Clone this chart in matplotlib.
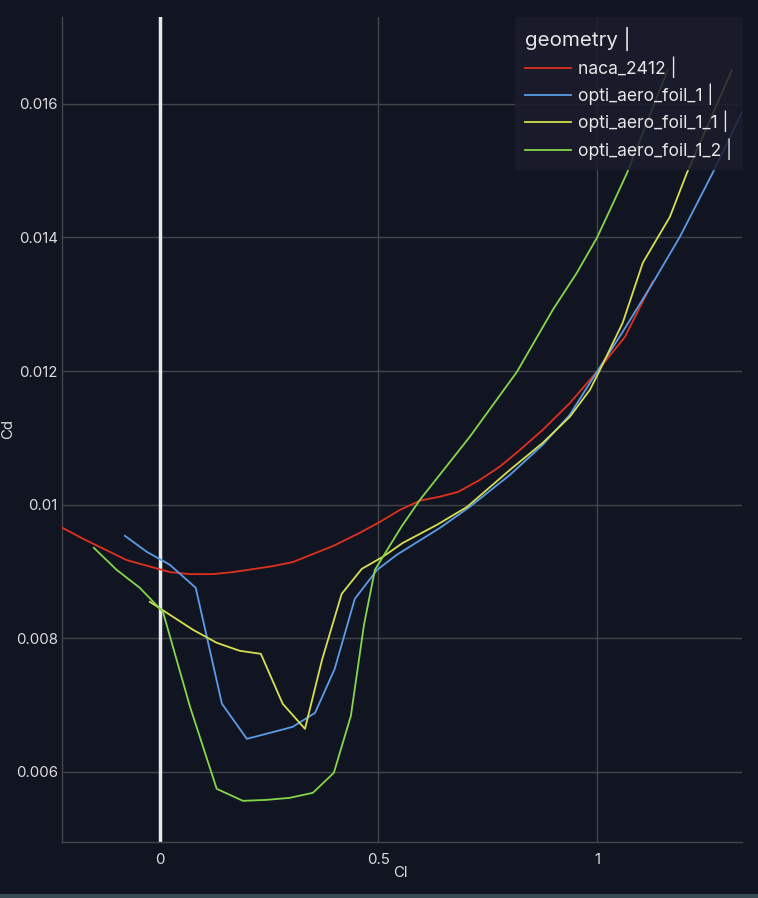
import matplotlib
matplotlib.use("Agg")
import matplotlib.pyplot as plt
from matplotlib.patches import Rectangle

plt.rcParams['font.family'] = ['Inter', 'DejaVu Sans']

# polar data (Cl, Cd)
naca_cl = [-0.25, -0.222, -0.176, -0.076, 0.023, 0.069, 0.121, 0.167, 0.259, 0.304, 0.350,
           0.396, 0.458, 0.503, 0.549, 0.595, 0.641, 0.682, 0.732, 0.778, 0.824, 0.876,
           0.938, 1.0, 1.064, 1.128]
naca_cd = [0.00972, 0.00965, 0.00949, 0.00917, 0.00899, 0.00896, 0.00896, 0.00899, 0.00908,
           0.00914, 0.00926, 0.00938, 0.00958, 0.00974, 0.00992, 0.01006, 0.01012, 0.01019,
           0.01037, 0.01057, 0.01082, 0.01112, 0.01152, 0.01199, 0.01251, 0.01334]

foil1_cl = [-0.080, -0.030, 0.023, 0.082, 0.142, 0.199, 0.252, 0.304, 0.355, 0.400, 0.446,
            0.497, 0.542, 0.641, 0.709, 0.801, 0.876, 0.938, 1.0, 1.059, 1.128, 1.190,
            1.265, 1.339]
foil1_cd = [0.009533, 0.009294, 0.009099, 0.008755, 0.007019, 0.006494, 0.006584, 0.006674,
            0.006883, 0.007542, 0.008590, 0.009024, 0.009249, 0.009653, 0.009967, 0.010446,
            0.010896, 0.011345, 0.011988, 0.012587, 0.013320, 0.014011, 0.014967, 0.015970]

foil11_cl = [-0.023, 0.016, 0.076, 0.130, 0.183, 0.231, 0.281, 0.332, 0.371, 0.416, 0.462,
             0.510, 0.556, 0.634, 0.703, 0.801, 0.876, 0.938, 0.984, 1.007, 1.059, 1.105,
             1.167, 1.206, 1.309]
foil11_cd = [0.008545, 0.008380, 0.008126, 0.007932, 0.007812, 0.007767, 0.007019, 0.006644,
             0.007677, 0.008665, 0.009039, 0.009219, 0.009428, 0.009698, 0.009967, 0.010521,
             0.010925, 0.011315, 0.011719, 0.012018, 0.012722, 0.013620, 0.014308, 0.014967,
             0.016509]

foil12_cl = [-0.151, -0.099, -0.046, 0.007, 0.069, 0.130, 0.190, 0.245, 0.297, 0.350, 0.398,
             0.437, 0.467, 0.492, 0.553, 0.595, 0.709, 0.817, 0.899, 0.954, 1.0, 1.030,
             1.069, 1.162]
foil12_cd = [0.009353, 0.009024, 0.008755, 0.008395, 0.006973, 0.005746, 0.005566, 0.005581,
             0.005611, 0.005686, 0.005985, 0.006838, 0.008201, 0.009024, 0.009673, 0.010072,
             0.011015, 0.011988, 0.012916, 0.013470, 0.013994, 0.014413, 0.014967, 0.016509]

series = [
    ("naca_2412 |", naca_cl, naca_cd, "#e0301e"),
    ("opti_aero_foil_1 |", foil1_cl, foil1_cd, "#5b9be8"),
    ("opti_aero_foil_1_1 |", foil11_cl, foil11_cd, "#d6df4f"),
    ("opti_aero_foil_1_2 |", foil12_cl, foil12_cd, "#85d64a"),
]

bg = "#111522"
txt = "#dcdcdc"
fig = plt.figure(figsize=(7.58, 8.98), dpi=100, facecolor=bg)
ax = fig.add_axes([62 / 758, 56 / 898, 680 / 758, 825 / 898], facecolor=bg)

for label, cl, cd, color in series:
    ax.plot(cl, cd, color=color, lw=1.3, label=label, zorder=3)

ax.axvline(0, color="#e8e8e8", lw=2.5, zorder=2)

ax.set_xlim(-0.224, 1.332)
ax.set_ylim(0.00495, 0.0173)
ax.set_xticks([0, 0.5, 1])
ax.set_xticklabels(["0", "0.5", "1"])
ax.set_yticks([0.006, 0.008, 0.010, 0.012, 0.014, 0.016])
ax.set_yticklabels(["0.006", "0.008", "0.01", "0.012", "0.014", "0.016"])
ax.grid(True, color="#44454a", lw=1, zorder=1)
ax.set_axisbelow(True)

for side in ["top", "right"]:
    ax.spines[side].set_visible(False)
for side in ["left", "bottom"]:
    ax.spines[side].set_color("#44454a")
    ax.spines[side].set_linewidth(1)

ax.tick_params(colors=txt, labelsize=10.8, length=0)
ax.tick_params(axis="y", pad=3)
ax.tick_params(axis="x", pad=8)

# axis titles placed where the reference has them
fig.text(400 / 758, 1 - 873 / 898, "Cl", color=txt, fontsize=10.8, ha="center", va="center")
fig.text(8 / 758, 1 - 429 / 898, "Cd", color=txt, fontsize=10.8, ha="center", va="center",
         rotation=90)

leg = ax.legend(loc="upper right", title="geometry |", fontsize=12.6,
                title_fontsize=14.8, frameon=True, fancybox=False,
                facecolor="#1b1b2c", edgecolor="#1b1b2c", framealpha=0.85,
                handlelength=2.6, handletextpad=0.45, borderaxespad=0,
                borderpad=0.55, labelspacing=0.33)
leg._legend_box.align = "left"
for t in leg.get_texts():
    t.set_color("#e6e6e6")
leg.get_title().set_color("#e6e6e6")
leg.set_zorder(5)

# thin strip along the bottom edge of the frame
fig.patches.append(Rectangle((0, 0), 1, 4 / 898, transform=fig.transFigure,
                             facecolor="#3a4a55", edgecolor="none"))

fig.savefig("out.png", dpi=100, facecolor=bg)
